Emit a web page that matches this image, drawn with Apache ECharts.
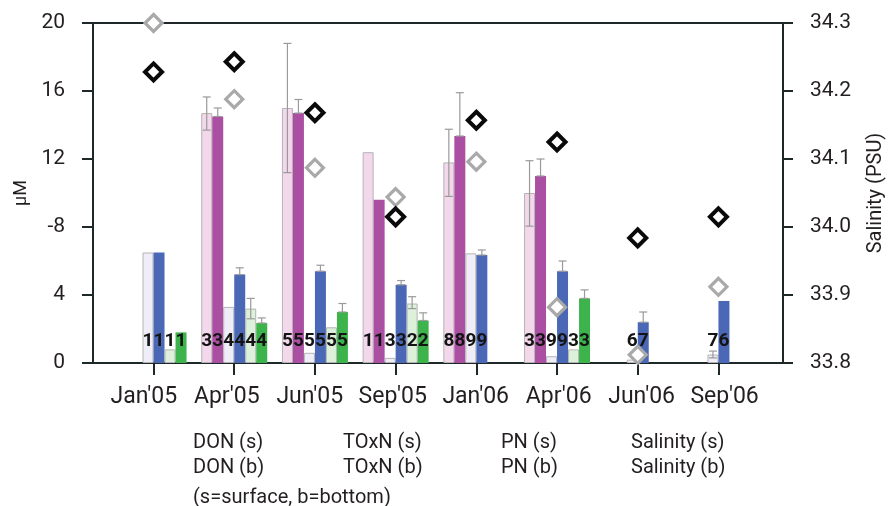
<!DOCTYPE html>
<html>
<head>
<meta charset="utf-8">
<script src="https://cdn.jsdelivr.net/npm/echarts@6/dist/echarts.min.js"></script>
<style>
  html, body { margin: 0; padding: 0; background: #ffffff; }
  #chart { width: 894px; height: 506px; }
</style>
</head>
<body>
<div id="chart"></div>
<script>
// ---- data ----
const categories = ["Jan'05", "Apr'05", "Jun'05", "Sep'05", "Jan'06", "Apr'06", "Jun'06", "Sep'06"];
const yTickLabels = ['0', '4', '-8', '12', '16', '20'];

const donS   = [null, 14.7, 15.0, 12.4, 11.8, 10.0, null, null];
const donB   = [null, 14.5, 14.7, 9.6, 13.35, 11.0, null, null];
const toxnS  = [6.5, 3.3, 0.6, 0.3, 6.45, 0.4, 0.2, 0.5];
const toxnB  = [6.5, 5.2, 5.4, 4.6, 6.35, 5.4, 2.4, 3.65];
const pnS    = [0.8, 3.2, 2.1, 3.5, null, 0.8, null, null];
const pnB    = [1.8, 2.35, 3.0, 2.5, null, 3.8, null, null];

// sample counts printed at the foot of each bar
const donSn  = [null, 3, 5, 1, 8, 3, null, null];
const donBn  = [null, 3, 5, 1, 8, 3, null, null];
const toxnSn = [1, 4, 5, 3, 9, 9, 6, 7];
const toxnBn = [1, 4, 5, 3, 9, 9, 7, 6];
const pnSn   = [1, 4, 5, 2, null, 3, null, null];
const pnBn   = [1, 4, 5, 2, null, 3, null, null];

const salS = [34.3, 34.188, 34.087, 34.044, 34.096, 33.882, 33.812, 33.912];
const salB = [34.228, 34.243, 34.168, 34.015, 34.157, 34.125, 33.984, 34.015];

// error bars: [category index, bar slot (0..5), low, high]
const errorBars = [
  [1, 0, 13.7, 15.65], [1, 1, 14.5, 15.0], [1, 3, 5.2, 5.6], [1, 4, 2.6, 3.8], [1, 5, 2.35, 2.65],
  [2, 0, 11.2, 18.8], [2, 1, 14.7, 15.5], [2, 3, 5.4, 5.75], [2, 5, 3.0, 3.5],
  [3, 3, 4.6, 4.85], [3, 4, 3.2, 3.9], [3, 5, 2.5, 2.95],
  [4, 0, 9.8, 13.75], [4, 1, 13.35, 15.9], [4, 3, 6.35, 6.65],
  [5, 0, 8.05, 11.9], [5, 1, 11.0, 12.0], [5, 3, 5.4, 6.0], [5, 5, 3.8, 4.3],
  [6, 3, 2.4, 3.0],
  [7, 2, 0.3, 0.7]
];

// ---- build ----
const BAR_W = 11;
function pairs(vals, ns) {
  const out = [];
  vals.forEach((v, i) => { if (v != null) out.push([i, v, ns[i]]); });
  return out;
}
const tickIdx = categories.map((c, i) => i);
const axisCol = '#1f2828';
const txtCol = '#231f20';
const font = 'Roboto';

function barSeries(name, vals, ns, color, border) {
  return {
    name: name,
    type: 'bar',
    xAxisIndex: 0, yAxisIndex: 0,
    barWidth: BAR_W,
    barGap: '0%',
    encode: { x: 0, y: 1 },
    data: pairs(vals, ns),
    itemStyle: border ? { color: color, borderColor: '#b4b4b4', borderWidth: 1 } : { color: color },
    label: {
      show: true, position: 'insideBottom', distance: 12,
      formatter: p => String(p.data[2]),
      fontFamily: font, fontWeight: 'bold', fontSize: 19, color: '#141414'
    },
    z: 2
  };
}

const option = {
  backgroundColor: '#ffffff',
  animation: false,
  textStyle: { fontFamily: font },
  grid: { left: 93, right: 109, top: 23, bottom: 143, containLabel: false },
  title: {
    text: '(s=surface, b=bottom)',
    left: 188, top: 483,
    textStyle: { fontFamily: font, fontSize: 20, fontWeight: 'normal', color: txtCol }
  },
  legend: [
    { left: 183, data: ['DON (s)', 'DON (b)'] },
    { left: 333, data: ['TOxN (s)', 'TOxN (b)'] },
    { left: 491, data: ['PN (s)', 'PN (b)'] },
    { left: 621, data: ['Salinity (s)', 'Salinity (b)'] }
  ].map(l => Object.assign({
    top: 428, orient: 'vertical', icon: 'none', itemWidth: 0, itemHeight: 20, itemGap: 5,
    selectedMode: false,
    textStyle: { fontFamily: font, fontSize: 20, color: txtCol }
  }, l)),
  xAxis: [
    {
      type: 'value', min: -0.75, max: 7.8, position: 'bottom',
      axisLine: { show: true, onZero: false, lineStyle: { color: axisCol, width: 2 } },
      axisTick: { show: true, customValues: tickIdx, length: 12, lineStyle: { color: axisCol, width: 2 } },
      axisLabel: { show: false },
      splitLine: { show: false }
    },
    {
      type: 'value', min: -0.75, max: 7.8, position: 'top',
      axisLine: { show: true, onZero: false, lineStyle: { color: axisCol, width: 2 } },
      axisTick: { show: false }, axisLabel: { show: false }, splitLine: { show: false }
    },
    {
      type: 'value', min: -0.613, max: 7.704, position: 'bottom',
      axisLine: { show: false, onZero: false }, axisTick: { show: false }, splitLine: { show: false },
      axisLabel: {
        show: true, customValues: tickIdx, margin: 23,
        formatter: v => categories[Math.round(v)],
        fontFamily: font, fontSize: 23, color: txtCol
      }
    }
  ],
  yAxis: [
    {
      type: 'value', position: 'left', min: 0, max: 20, interval: 4,
      name: 'μM', nameLocation: 'middle', nameGap: 58,
      nameTextStyle: { fontFamily: font, fontSize: 18, color: txtCol },
      axisLine: { show: true, onZero: false, lineStyle: { color: axisCol, width: 2 } },
      axisTick: { show: true, length: 11, lineStyle: { color: axisCol, width: 2 } },
      axisLabel: {
        margin: 28, fontFamily: font, fontSize: 21, color: txtCol,
        formatter: v => yTickLabels[Math.round(v / 4)]
      },
      splitLine: { show: false }
    },
    {
      type: 'value', position: 'right', min: 33.8, max: 34.3, interval: 0.1,
      name: 'Salinity (PSU)', nameLocation: 'middle', nameGap: 83,
      nameTextStyle: { fontFamily: font, fontSize: 20, color: txtCol },
      axisLine: { show: true, onZero: false, lineStyle: { color: axisCol, width: 2 } },
      axisTick: { show: true, length: 10, lineStyle: { color: axisCol, width: 2 } },
      axisLabel: {
        margin: 27, fontFamily: font, fontSize: 21, color: txtCol,
        formatter: v => v.toFixed(1)
      },
      splitLine: { show: false }
    }
  ],
  series: [
    barSeries('DON (s)', donS, donSn, '#f3d7ea', true),
    barSeries('DON (b)', donB, donBn, '#aa4fa2', false),
    barSeries('TOxN (s)', toxnS, toxnSn, '#eeedf8', true),
    barSeries('TOxN (b)', toxnB, toxnBn, '#4b68b6', false),
    barSeries('PN (s)', pnS, pnSn, '#dcf0da', true),
    barSeries('PN (b)', pnB, pnBn, '#3db44b', false),
    {
      name: 'errors',
      type: 'custom',
      xAxisIndex: 0, yAxisIndex: 0,
      data: errorBars,
      z: 3,
      renderItem: function (params, api) {
        const cat = api.value(0), slot = api.value(1);
        const lo = api.coord([cat, api.value(2)]);
        const hi = api.coord([cat, api.value(3)]);
        const x = lo[0] + (slot - 2.5) * BAR_W;
        const cap = 4;
        const style = { stroke: '#9a9a9a', lineWidth: 1.2 };
        return {
          type: 'group',
          children: [
            { type: 'line', shape: { x1: x, y1: lo[1], x2: x, y2: hi[1] }, style: style },
            { type: 'line', shape: { x1: x - cap, y1: hi[1], x2: x + cap, y2: hi[1] }, style: style },
            { type: 'line', shape: { x1: x - cap, y1: lo[1], x2: x + cap, y2: lo[1] }, style: style }
          ]
        };
      }
    },
    {
      name: 'Salinity (s)',
      type: 'scatter',
      xAxisIndex: 0, yAxisIndex: 1,
      data: salS.map((v, i) => [i, v]),
      symbol: 'diamond', symbolSize: 17,
      itemStyle: { color: '#ffffff', borderColor: '#a9a9a9', borderWidth: 3.2, opacity: 1 },
      z: 5
    },
    {
      name: 'Salinity (b)',
      type: 'scatter',
      xAxisIndex: 0, yAxisIndex: 1,
      data: salB.map((v, i) => [i, v]),
      symbol: 'diamond', symbolSize: 17,
      itemStyle: { color: '#ffffff', borderColor: '#0a0a0a', borderWidth: 4, opacity: 1 },
      z: 6
    }
  ]
};

const chart = echarts.init(document.getElementById('chart'), null, { renderer: 'canvas' });
chart.setOption(option);
</script>
</body>
</html>
